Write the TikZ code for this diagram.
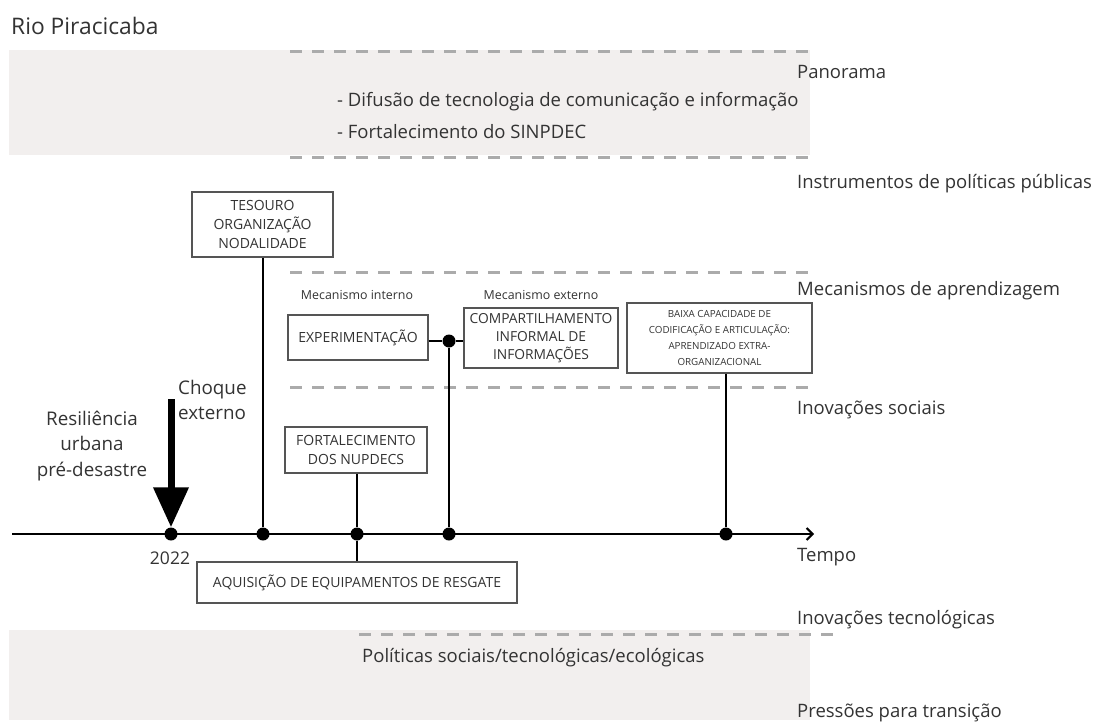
\documentclass[tikz,border=0pt]{standalone}
\usepackage{fontspec}
\setmainfont{Open Sans}
\usetikzlibrary{arrows.meta}
\definecolor{bandc}{HTML}{F2EFEE}
\definecolor{dashc}{HTML}{ABABAB}
\definecolor{txt}{HTML}{333333}
\definecolor{boxline}{HTML}{555555}
\begin{document}
\begin{tikzpicture}[x=1pt,y=-1pt,
  lbl/.style={anchor=west, inner sep=0pt, font=\fontsize{18.5}{21}\selectfont, text=txt},
  big/.style={inner sep=0pt, font=\fontsize{18.8}{25.5}\selectfont, text=txt},
  small/.style={inner sep=0pt, font=\fontsize{12.4}{14}\selectfont, text=txt},
  bx/.style={draw=boxline, line width=1.1pt, fill=white, align=center, inner sep=0pt, text=txt, font=\fontsize{14}{19}\selectfont},
  dashln/.style={draw=dashc, line width=3pt, dash pattern=on 12pt off 10pt},
  tdot/.style={circle, fill=black, inner sep=0pt, minimum size=13pt},
  conn/.style={line width=2.6pt, black}
]
\useasboundingbox (0,0) rectangle (1095,723);
% bands
\fill[bandc] (9,50) rectangle (810,155);
\fill[bandc] (9,630) rectangle (810,720);
% dashed separators
\draw[dashln] (290,51) -- (810,51);
\draw[dashln] (290,157) -- (810,157);
\draw[dashln] (290,272) -- (810,272);
\draw[dashln] (290,387) -- (810,387);
\draw[dashln] (359,634) -- (833,634);
% title
\node[anchor=west, inner sep=0pt, font=\fontsize{22.8}{26}\selectfont, text=txt] (title) at (11,26) {Rio Piracicaba};
% right labels
\node[lbl] (panorama) at (797,72) {Panorama};
\node[lbl] (instr) at (797,184) {Instrumentos de políticas públicas};
\node[lbl] (mecs) at (797,291) {Mecanismos de aprendizagem};
\node[lbl] (inosoc) at (797,410) {Inovações sociais};
\node[lbl] (tempo) at (797,557) {Tempo};
\node[lbl] (inotec) at (797,620) {Inovações tecnológicas};
\node[lbl] (press) at (797,713) {Pressões para transição};
% band texts
\node[lbl] (difusao) at (337,102) {- Difusão de tecnologia de comunicação e informação};
\node[lbl] (sinpdec) at (337,132) {- Fortalecimento do SINPDEC};
\node[lbl] (politicas) at (362,658) {Políticas sociais/tecnológicas/ecológicas};
% timeline
\coordinate (tstart) at (12,534);
\coordinate (tend) at (814,534);
\draw[conn, -{Straight Barb[length=6pt,width=12pt,line width=2pt]}] (tstart) -- (tend);
\node[tdot] (d0) at (171,534) {};
\node[tdot] (d1) at (263,534) {};
\node[tdot] (d2) at (357,534) {};
\node[tdot] (d3) at (449,534) {};
\node[tdot] (d4) at (726,534) {};
\node[tdot] (j) at (449,341) {};
% shock arrow
\coordinate (ashaft) at (171,399);
\draw[line width=7pt, -{Triangle[length=40pt,width=34pt]}] (ashaft) -- (d0.north);
\node[big, anchor=west, align=left] (choque) at (178,400) {Choque\\externo};
\node[big, align=center] (resil) at (92,446) {Resiliência\\urbana\\pré-desastre};
\node[inner sep=0pt, font=\fontsize{17.5}{19}\selectfont, text=txt] (ano) at (170,558) {2022};
% boxes
\node[bx, minimum width=141pt, minimum height=65pt] (tes) at (262.5,224.5) {TESOURO\\ORGANIZAÇÃO\\NODALIDADE};
\node[small] (mint) at (357,295) {Mecanismo interno};
\node[small] (mext) at (541,295) {Mecanismo externo};
\node[bx, minimum width=140pt, minimum height=45pt] (exp) at (358,337.5) {EXPERIMENTAÇÃO};
\node[bx, minimum width=154pt, minimum height=60pt, font=\fontsize{13.8}{18}\selectfont] (comp) at (541,338) {COMPARTILHAMENTO\\INFORMAL DE\\INFORMAÇÕES};
\node[bx, minimum width=185pt, minimum height=70pt, font=\fontsize{9.8}{16}\selectfont] (baixa) at (719.5,338) {BAIXA CAPACIDADE DE\\CODIFICAÇÃO E ARTICULAÇÃO:\\APRENDIZADO EXTRA-\\ORGANIZACIONAL};
\node[bx, minimum width=142pt, minimum height=46pt] (fort) at (356,450) {FORTALECIMENTO\\DOS NUPDECS};
\node[bx, minimum width=320pt, minimum height=41pt] (aq) at (357,582.5) {AQUISIÇÃO DE EQUIPAMENTOS DE RESGATE};
% connectors
\draw[conn] (tes.south -| d1) -- (d1);
\draw[conn] (fort.south -| d2) -- (d2);
\draw[conn] (d2) -- (aq.north -| d2);
\draw[conn] (exp.east |- j) -- (j) -- (comp.west |- j);
\draw[conn] (j) -- (d3);
\draw[conn] (baixa.south -| d4) -- (d4);
\end{tikzpicture}
\end{document}
